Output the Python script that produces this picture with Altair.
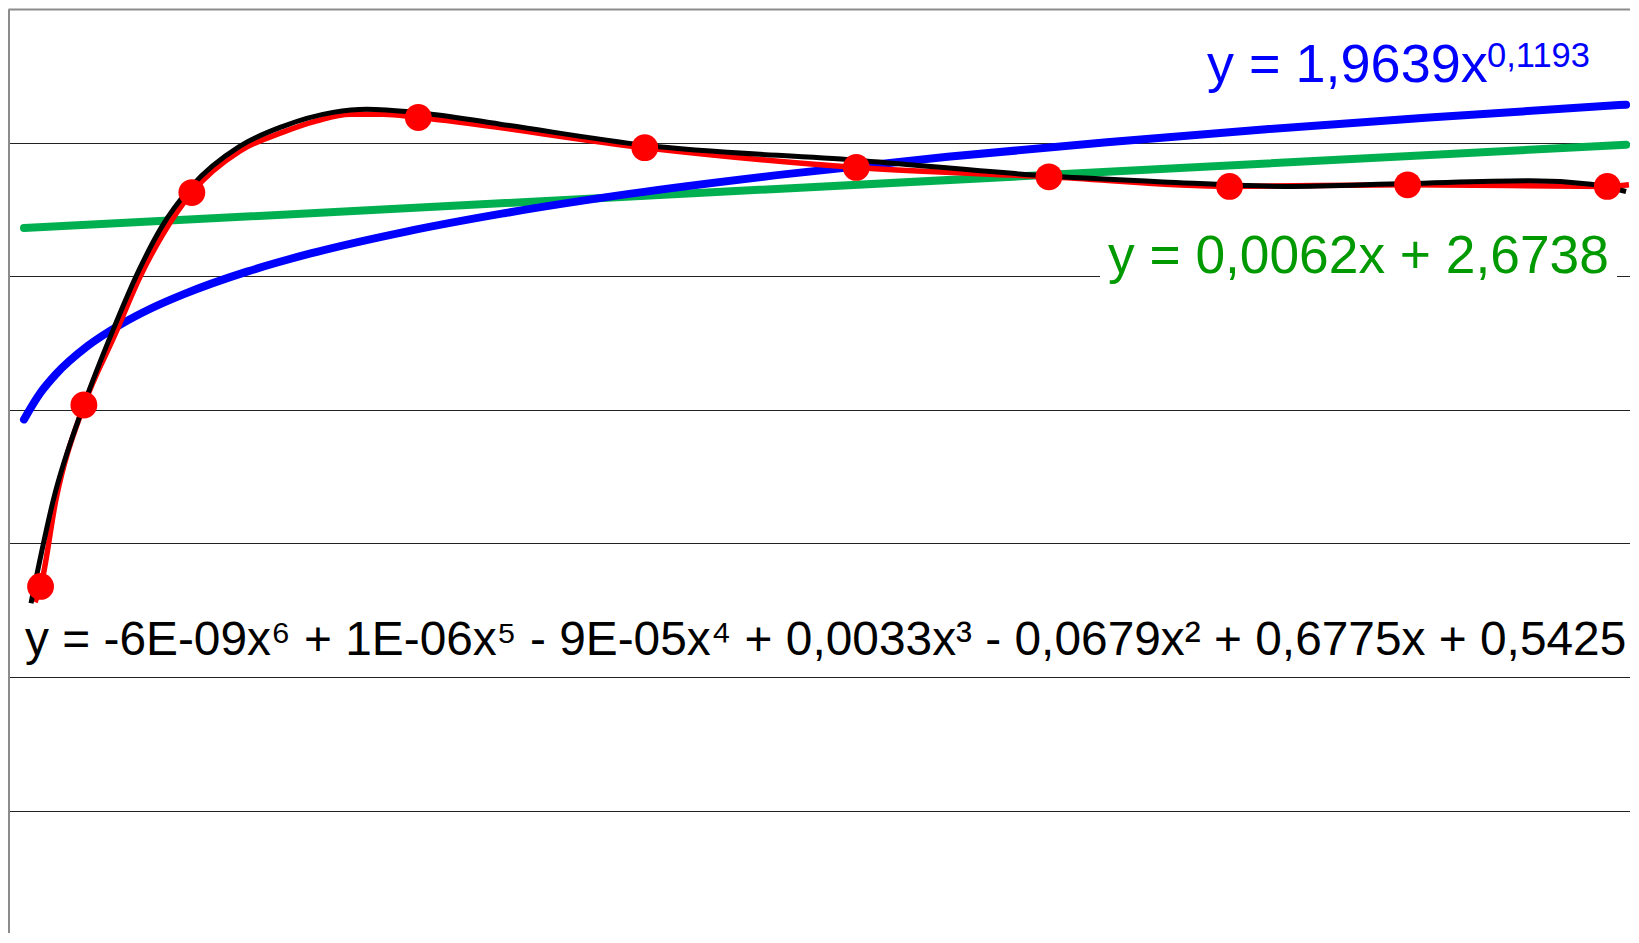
import altair as alt
import pandas as pd

# measured data points (red markers)
marker_x = [1.52, 2.88, 6.27, 13.38, 20.49, 27.13, 33.18, 38.85, 44.44, 50.71]
marker_y = [1.339, 2.018, 2.813, 3.094, 2.981, 2.907, 2.872, 2.836, 2.842, 2.836]

# red smoothed data line
red_line_x = [1.345, 1.524, 2.005, 2.884, 3.85, 4.65, 5.35, 6.265, 7.782, 9.132, 10.19, 11.24, 12.27, 13.38,
              20.49, 27.13, 33.18, 38.85, 44.44, 50.71, 51.39]
red_line_y = [1.280, 1.339, 1.665, 2.018, 2.280, 2.500, 2.655, 2.813, 2.969, 3.039, 3.081, 3.106, 3.106, 3.094,
              2.981, 2.907, 2.872, 2.836, 2.842, 2.836, 2.842]

# black polynomial trendline
poly_x = [1.22, 1.92, 2.915, 3.80, 4.60, 5.30, 6.265, 7.782, 9.132, 10.70, 11.76, 13.33,
          15.95, 20.50, 27.12, 33.18, 36.76, 40.59, 44.44, 48.28, 50.20, 51.30]
poly_y = [1.276, 1.662, 2.030, 2.300, 2.520, 2.680, 2.837, 2.987, 3.061, 3.113, 3.125, 3.113,
          3.069, 2.990, 2.934, 2.875, 2.853, 2.836, 2.847, 2.857, 2.844, 2.817]

# blue power trendline
power_x = [1, 1.5, 2, 3, 4, 5, 6, 8, 10, 13, 16, 20, 25, 30, 35, 40, 45, 51.3]
power_y = [1.964, 2.061, 2.133, 2.239, 2.317, 2.380, 2.432, 2.517, 2.585, 2.667, 2.734,
           2.808, 2.883, 2.947, 3.001, 3.050, 3.093, 3.142]

# green linear trendline
linear_x = [1, 51.3]
linear_y = [2.680, 2.992]

# labels
power_label = "y = 1,9639x"
power_sup = "0,1193"
linear_label = "y = 0,0062x + 2,6738"
poly_label = "y = -6E-09x\u2076 + 1E-06x\u2075 - 9E-05x\u2074 + 0,0033x\u00b3 - 0,0679x\u00b2 + 0,6775x + 0,5425"
grid_values = [0.5, 1.0, 1.5, 2.0, 2.5, 3.0]

FONT = "Liberation Sans"
H = 924

xs = alt.Scale(domain=[0.4977, 51.36 + 2 / 31.85], nice=False, zero=False)
ys = alt.Scale(domain=[3.5 - H / 267.2, 3.5], nice=False, zero=False)
x_axis = alt.Axis(orient="top", labels=False, ticks=False, grid=False, title=None,
                  domain=True, domainColor="#8c8c8c", domainWidth=2)
y_axis = alt.Axis(orient="left", labels=False, ticks=False, grid=True, title=None,
                  values=grid_values, gridColor="#222222", gridWidth=1, gridOpacity=1,
                  domain=True, domainColor="#8c8c8c", domainWidth=3)


def enc():
    return dict(x=alt.X("x:Q", scale=xs, axis=x_axis), y=alt.Y("y:Q", scale=ys, axis=y_axis))


def df(xv, yv):
    return pd.DataFrame({"x": xv, "y": yv})


bg = alt.Chart(pd.DataFrame({"t": [0]})).mark_rect(color="white").encode(
    x=alt.value(1092), x2=alt.value(1609), y=alt.value(216), y2=alt.value(281))

green = alt.Chart(df(linear_x, linear_y)).mark_line(
    color="#00B050", strokeWidth=8, strokeCap="round").encode(**enc())
blue = alt.Chart(df(power_x, power_y)).mark_line(
    color="#0000FF", strokeWidth=8, strokeCap="round", interpolate="monotone").encode(**enc())
red = alt.Chart(df(red_line_x, red_line_y)).mark_line(
    color="#FF0000", strokeWidth=5.5, interpolate="monotone").encode(**enc())
black = alt.Chart(df(poly_x, poly_y)).mark_line(
    color="#000000", strokeWidth=5, interpolate="monotone").encode(**enc())
pts = alt.Chart(df(marker_x, marker_y)).mark_circle(
    color="#FF0000", opacity=1, size=720).encode(**enc())


def label(text, px, py, size, color):
    return alt.Chart(pd.DataFrame({"t": [text]})).mark_text(
        align="left", baseline="alphabetic", font=FONT, fontSize=size, color=color
    ).encode(x=alt.value(px), y=alt.value(py), text="t:N")


t_pow = label(power_label, 1199, 72.7, 54, "#0000FF")
t_pow_sup = label(power_sup, 1479, 57.7, 34.5, "#0000FF")
t_lin = label(linear_label, 1100, 264.3, 53.3, "#009900")
t_poly = label(poly_label, 17, 645.5, 47.85, "#000000")

chart = alt.layer(bg, green, blue, red, black, pts, t_pow, t_pow_sup, t_lin, t_poly).properties(
    width=1622, height=H,
    autosize=alt.AutoSizeParams(type="none"),
    padding={"left": 0, "top": 1, "right": 0, "bottom": 0},
    background="white",
).configure_view(stroke=None)

chart.save("out.html", embed_options={"renderer": "svg", "actions": False})
